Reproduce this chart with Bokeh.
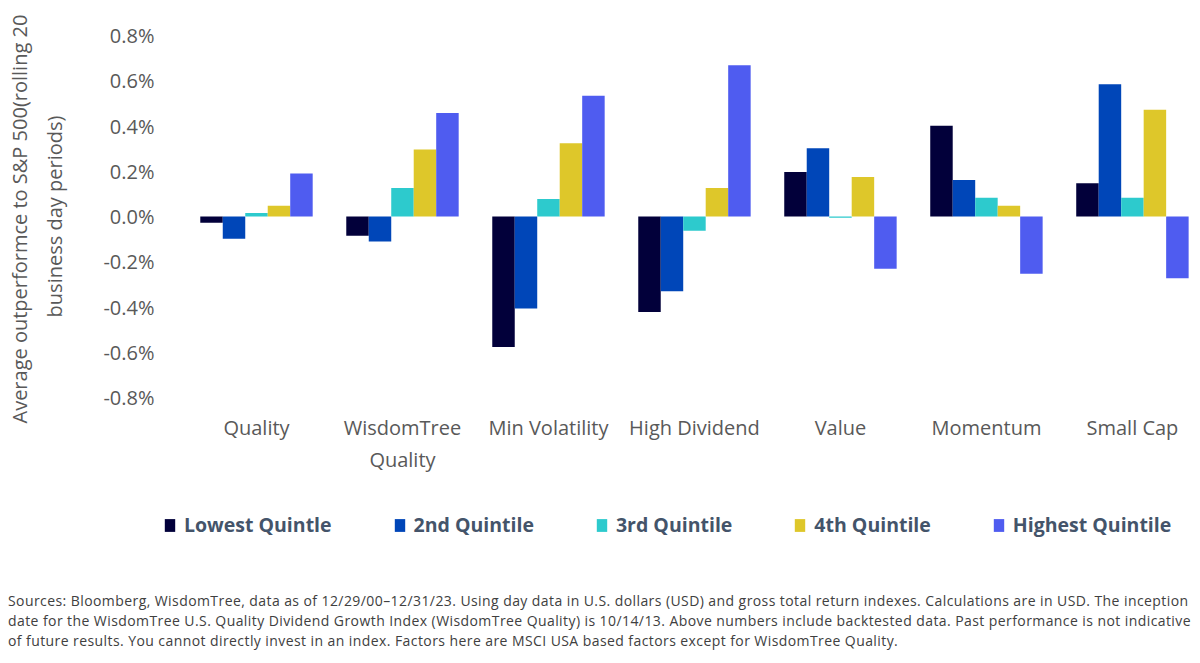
from bokeh.plotting import figure
from bokeh.models import FixedTicker, PrintfTickFormatter, Legend, LegendItem, Div, Range1d
from bokeh.layouts import column
from bokeh.embed import file_html
from bokeh.resources import INLINE

categories = ["Quality", "WisdomTree\nQuality", "Min Volatility", "High Dividend",
              "Value", "Momentum", "Small Cap"]
series_names = ["Lowest Quintle", "2nd Quintile", "3rd Quintile", "4th Quintile", "Highest Quintile"]

# average outperformance, in percent
lowest = [-0.028, -0.085, -0.577, -0.422, 0.197, 0.401, 0.147]
second = [-0.098, -0.111, -0.407, -0.330, 0.302, 0.161, 0.585]
third = [0.015, 0.126, 0.077, -0.063, -0.005, 0.083, 0.083]
fourth = [0.048, 0.296, 0.324, 0.126, 0.175, 0.048, 0.472]
highest = [0.190, 0.457, 0.534, 0.669, -0.231, -0.253, -0.273]

y_ticks = [-0.8, -0.6, -0.4, -0.2, 0.0, 0.2, 0.4, 0.6, 0.8]

colors = ["#02003A", "#0046B8", "#2DCACD", "#DEC72A", "#4F5CF0"]
series = [lowest, second, third, fourth, highest]

FONT = "Open Sans"
GRAY = "#595959"
W = 1195

p = figure(width=W, height=498,
           x_range=Range1d(-0.589, 6.432), y_range=Range1d(-0.8, 0.8),
           output_backend="svg", toolbar_location=None,
           min_border_left=170, min_border_right=0, min_border_top=35,
           min_border_bottom=101)
p.outline_line_color = None
p.xgrid.visible = False
p.ygrid.visible = False

bw = 0.154
xs = list(range(len(categories)))
for k, (vals, col) in enumerate(zip(series, colors)):
    off = (k - 2) * bw
    p.vbar(x=[x + off for x in xs], top=vals, bottom=0, width=bw,
           fill_color=col, line_color=None)

# y axis
ya = p.yaxis[0]
ya.ticker = FixedTicker(ticks=y_ticks)
ya.formatter = PrintfTickFormatter(format="%.1f%%")
ya.axis_line_color = None
ya.major_tick_line_color = None
ya.minor_tick_line_color = None
ya.major_label_text_font = FONT
ya.major_label_text_font_size = "20px"
ya.major_label_text_color = GRAY
ya.major_label_standoff = 10
ya.axis_label = "Average  outperformce to S&P 500(rolling 20\nbusiness day periods)"
ya.axis_label_text_font = FONT
ya.axis_label_text_font_size = "20px"
ya.axis_label_text_font_style = "normal"
ya.axis_label_text_color = GRAY
ya.axis_label_text_line_height = 1.3
ya.axis_label_standoff = 32

# x axis
xa = p.xaxis[0]
xa.ticker = FixedTicker(ticks=xs)
xa.major_label_overrides = {i: c for i, c in enumerate(categories)}
xa.axis_line_color = None
xa.major_tick_line_color = None
xa.minor_tick_line_color = None
xa.major_label_text_font = FONT
xa.major_label_text_font_size = "20px"
xa.major_label_text_color = GRAY
xa.major_label_standoff = 10
xa.major_label_text_line_height = 1.2

# legend in its own strip (series drawn off-screen only to give the legend its swatches)
lg = figure(width=W, height=52, x_range=Range1d(100, 101), y_range=Range1d(100, 101),
            x_axis_type=None, y_axis_type=None,
            output_backend="svg", toolbar_location=None,
            min_border_left=0, min_border_right=0, min_border_top=0, min_border_bottom=0)
lg.frame_align = False
lg.grid.visible = False
lg.outline_line_color = None
items = []
for name, vals, col in zip(series_names, series, colors):
    r = lg.vbar(x=xs, top=vals, bottom=0, width=bw, fill_color=col, line_color=None)
    items.append(LegendItem(label=name, renderers=[r]))
legend = Legend(items=items, orientation="horizontal", location=(163, 12),
                border_line_color=None, background_fill_alpha=0,
                label_text_font=FONT, label_text_font_size="19.5px",
                label_text_font_style="bold", label_text_color="#44546A",
                glyph_width=13, glyph_height=16, label_standoff=8,
                spacing=61, padding=0, margin=0)
lg.add_layout(legend, "center")

note = ("Sources: Bloomberg, WisdomTree, data as of 12/29/00\u201312/31/23. Using day data in U.S. dollars (USD) "
        "and gross total return indexes. Calculations are in USD. The inception<br>"
        "date for the WisdomTree U.S. Quality Dividend Growth Index (WisdomTree Quality) is 10/14/13. "
        "Above numbers include backtested data. Past performance is not indicative<br>"
        "of future results. You cannot directly invest in an index. Factors here are MSCI USA based "
        "factors except for WisdomTree Quality.")
div = Div(text=note, width=W, margin=(41, 0, 0, 0),
          styles={"font-family": "Open Sans", "font-size": "14px", "color": "#404040",
                  "line-height": "20px", "white-space": "nowrap", "letter-spacing": "0.42px",
                  "padding-left": "8px"})

layout = column(p, lg, div, spacing=0)
open("out.html", "w").write(file_html(layout, INLINE))
